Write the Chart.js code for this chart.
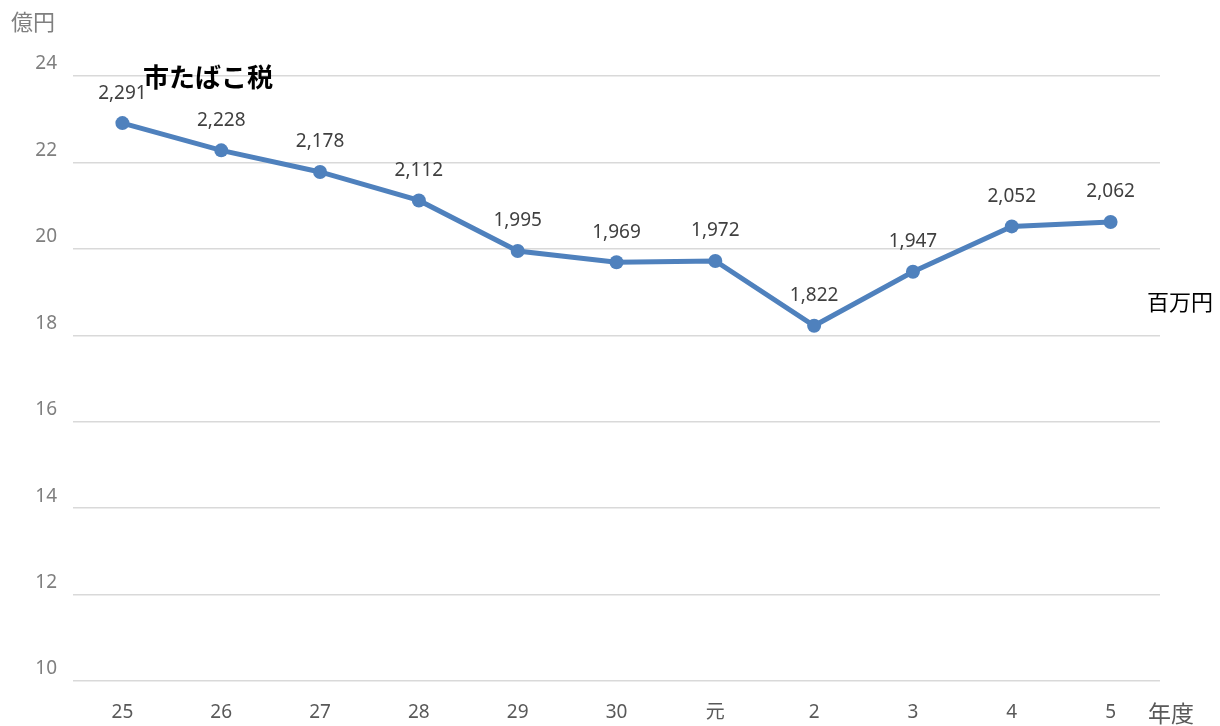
<!DOCTYPE html>
<html>
<head>
<meta charset="utf-8">
<script src="https://cdn.jsdelivr.net/npm/chart.js@4/dist/chart.umd.min.js"></script>
<style>
  html, body { margin: 0; padding: 0; background: #fff; }
  #wrap { width: 1220px; height: 726px; position: relative; }
</style>
</head>
<body>
<div id="wrap"><canvas id="taxChart" width="1220" height="726"></canvas></div>
<script>
// 年度 (Heisei 25 .. Reiwa 5)
var years = ['25', '26', '27', '28', '29', '30', '元', '2', '3', '4', '5'];
// 市たばこ税 revenue, 百万円
var revenueMillion = [2291, 2228, 2178, 2112, 1995, 1969, 1972, 1822, 1947, 2052, 2062];
// axis is in 億円
var yMin = 10, yMax = 24, yStep = 2;

var lineColor = '#4f81bd';
var fontFamily = "'Noto Sans', 'Noto Sans CJK JP', sans-serif";
var cjkFont = "'Noto Sans CJK JP', sans-serif";

var revenueOku = revenueMillion.map(function (v) { return v / 100; });

// draws the 百万円 values above each point plus the loose captions
var labelPlugin = {
    id: 'labelPlugin',
    afterDatasetsDraw: function (chart) {
        var ctx = chart.ctx;
        var meta = chart.getDatasetMeta(0);
        ctx.save();
        ctx.font = '19px ' + fontFamily;
        ctx.fillStyle = '#404040';
        ctx.textAlign = 'center';
        ctx.textBaseline = 'middle';
        meta.data.forEach(function (pt, i) {
            ctx.fillText(revenueMillion[i].toLocaleString('en-US'), pt.x, pt.y - 30);
        });

        var area = chart.chartArea;
        ctx.textAlign = 'left';
        ctx.font = 'bold 26px ' + cjkFont;
        ctx.fillStyle = '#000';
        ctx.fillText('市たばこ税', 143, area.top + 1);

        ctx.font = '22px ' + cjkFont;
        ctx.fillStyle = '#7f7f7f';
        ctx.fillText('億円', 11, 22);

        ctx.fillStyle = '#000';
        ctx.fillText('百万円', 1147, 302);

        ctx.font = '23px ' + cjkFont;
        ctx.fillStyle = '#595959';
        ctx.fillText('年度', 1148, 713);
        ctx.restore();
    }
};

new Chart(document.getElementById('taxChart'), {
    type: 'line',
    data: {
        labels: years,
        datasets: [{
            label: '市たばこ税',
            data: revenueOku,
            borderColor: lineColor,
            backgroundColor: lineColor,
            borderWidth: 5,
            pointRadius: 7,
            pointBorderWidth: 0,
            tension: 0,
            fill: false
        }]
    },
    options: {
        responsive: false,
        animation: false,
        devicePixelRatio: 1,
        layout: { padding: { top: 76, right: 60, bottom: 0, left: 0 } },
        plugins: {
            legend: { display: false },
            tooltip: { enabled: false }
        },
        scales: {
            x: {
                offset: true,
                grid: { display: false },
                border: { display: false },
                ticks: { color: '#595959', font: { size: 19, family: fontFamily }, padding: 12, maxRotation: 0 },
                afterFit: function (scale) { scale.height = 45; }
            },
            y: {
                min: yMin,
                max: yMax,
                grid: { color: '#d9d9d9', lineWidth: 1.5, drawTicks: false },
                border: { display: false },
                ticks: { stepSize: yStep, color: '#7f7f7f', font: { size: 19, family: fontFamily }, padding: 16, labelOffset: -12 },
                afterFit: function (scale) { scale.width = 73; }
            }
        }
    },
    plugins: [labelPlugin]
});
</script>
</body>
</html>
